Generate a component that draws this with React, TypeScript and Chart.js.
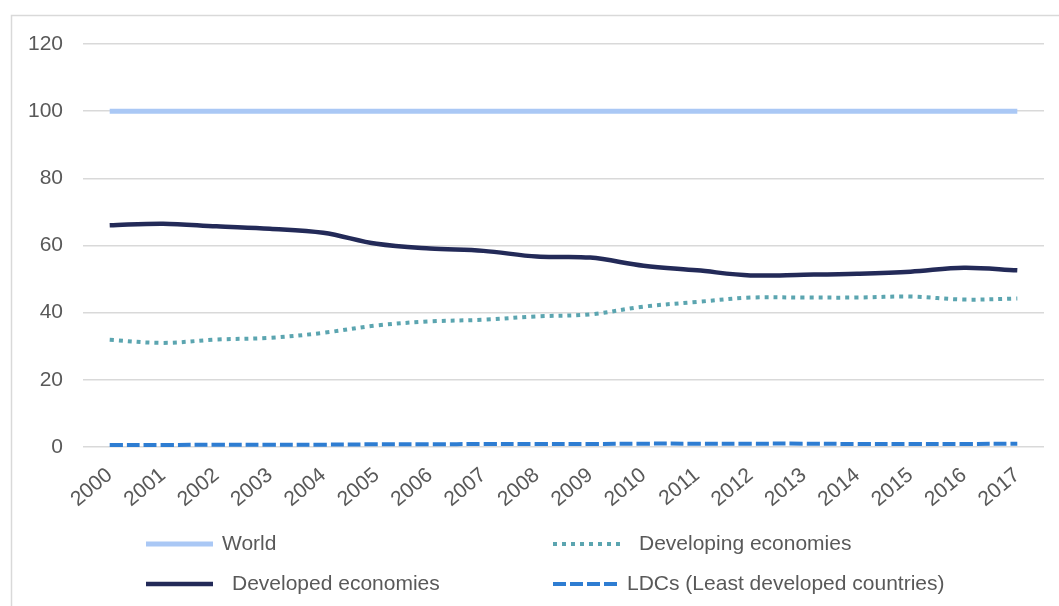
import React, { useEffect, useRef } from "react";
import { Chart, registerables } from "chart.js";

Chart.register(...registerables);

const years = ["2000","2001","2002","2003","2004","2005","2006","2007","2008","2009","2010","2011","2012","2013","2014","2015","2016","2017"];
const world = [100,100,100,100,100,100,100,100,100,100,100,100,100,100,100,100,100,100];
const developing = [31.9,31.0,32.0,32.5,34.0,36.2,37.4,37.9,38.9,39.5,41.8,43.2,44.5,44.5,44.5,44.8,43.9,44.2];
const developed = [66.0,66.5,65.7,65.0,63.8,60.5,59.1,58.4,56.7,56.4,54.0,52.6,51.1,51.3,51.6,52.2,53.4,52.6];
const ldcs = [0.6,0.6,0.7,0.7,0.7,0.8,0.8,0.9,0.9,0.9,1.0,1.0,1.0,1.0,0.9,0.9,0.9,1.0];
const yTicks = [0, 20, 40, 60, 80, 100, 120];

const seriesNames = ["World", "Developing economies", "Developed economies", "LDCs (Least developed countries)"];

const FONT = "'Liberation Sans', Arial, sans-serif";
const TEXT = "#595959";

const legendLayout = [
  { x: 146, y: 544, tx: 222 },
  { x: 553, y: 544, tx: 639 },
  { x: 146, y: 584, tx: 232 },
  { x: 553, y: 584, tx: 627 },
];

const framePlugin = {
  id: "frame",
  beforeDraw(chart: any) {
    const ctx = chart.ctx;
    ctx.save();
    ctx.fillStyle = "#ffffff";
    ctx.fillRect(0, 0, chart.width, chart.height);
    ctx.strokeStyle = "#d9d9d9";
    ctx.lineWidth = 1.5;
    ctx.strokeRect(11.5, 15.5, 2000, 2000);
    ctx.restore();
  },
  afterDraw(chart: any) {
    const ctx = chart.ctx;
    ctx.save();
    chart.data.datasets.forEach((ds: any, i: number) => {
      const p = legendLayout[i];
      ctx.beginPath();
      ctx.strokeStyle = ds.borderColor;
      ctx.lineWidth = ds.borderWidth;
      ctx.setLineDash(ds.borderDash || []);
      ctx.lineCap = "butt";
      ctx.moveTo(p.x, p.y);
      ctx.lineTo(p.x + 67, p.y);
      ctx.stroke();
      ctx.setLineDash([]);
      ctx.fillStyle = TEXT;
      ctx.font = `21px ${FONT}`;
      ctx.textBaseline = "middle";
      ctx.textAlign = "left";
      ctx.fillText(ds.label, p.tx, p.y);
    });
    ctx.restore();
  },
};

export default function App() {
  const ref = useRef<HTMLCanvasElement>(null);
  useEffect(() => {
    if (!ref.current) return;
    const chart = new Chart(ref.current, {
      type: "line",
      data: {
        labels: years,
        datasets: [
          { label: seriesNames[0], data: world, borderColor: "#aac8f5", borderWidth: 5, pointRadius: 0, tension: 0.35 },
          { label: seriesNames[1], data: developing, borderColor: "#5ba5b0", borderWidth: 4, borderDash: [4, 5], pointRadius: 0, tension: 0.35 },
          { label: seriesNames[2], data: developed, borderColor: "#232a58", borderWidth: 4.5, pointRadius: 0, tension: 0.35 },
          { label: seriesNames[3], data: ldcs, borderColor: "#2e7dd2", borderWidth: 4, borderDash: [13, 4], pointRadius: 0, tension: 0.35 },
        ],
      },
      options: {
        responsive: false,
        animation: false,
        layout: { padding: { top: 44, right: 15, left: 0, bottom: 0 } },
        plugins: { legend: { display: false }, tooltip: { enabled: false } },
        scales: {
          x: {
            offset: true,
            grid: { display: false },
            border: { display: false },
            ticks: {
              color: TEXT,
              font: { family: FONT, size: 21 },
              minRotation: 40,
              maxRotation: 40,
              autoSkip: false,
              padding: 8,
            },
            afterFit(scale: any) { scale.height = 159; },
          },
          y: {
            min: yTicks[0],
            max: yTicks[yTicks.length - 1],
            grid: { color: "#d9d9d9", lineWidth: 1.5, drawTicks: false },
            border: { display: false },
            ticks: {
              stepSize: 20,
              color: TEXT,
              font: { family: FONT, size: 21 },
              padding: 20,
            },
            afterFit(scale: any) { scale.width = 83; },
          },
        },
      },
      plugins: [framePlugin],
    });
    return () => chart.destroy();
  }, []);
  return (
    <div style={{ position: "fixed", left: 0, top: 0, width: 1059, height: 606, background: "#fff" }}>
      <canvas ref={ref} width={1059} height={606} style={{ display: "block" }} />
    </div>
  );
}
